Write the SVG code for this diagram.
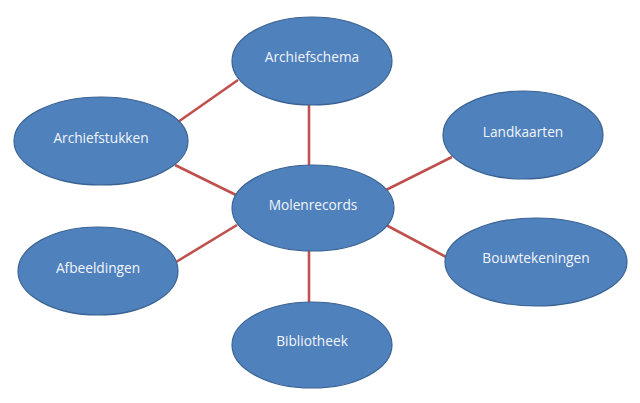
<svg xmlns="http://www.w3.org/2000/svg" width="640" height="403" viewBox="0 0 640 403">
<style>
.n ellipse{fill:#4F81BD;stroke:#3A6393;stroke-width:1.2}
.n text{font-family:"Open Sans","Liberation Sans",sans-serif;font-size:13.7px;fill:#F2F5FA;text-anchor:middle;dominant-baseline:central}
#edges line{stroke:#C0504D;stroke-width:2.6}
</style>
<rect width="640" height="403" fill="#fff"/>
<g id="edges">
<line x1="309" y1="104" x2="309" y2="166"/>
<line x1="178" y1="122" x2="238" y2="80"/>
<line x1="175" y1="165" x2="238" y2="196"/>
<line x1="386" y1="190" x2="452" y2="157"/>
<line x1="386" y1="225" x2="448" y2="258"/>
<line x1="237" y1="225" x2="176" y2="262"/>
<line x1="309" y1="250" x2="309" y2="303"/>
</g>
<g id="archiefschema" class="n"><ellipse cx="312" cy="61" rx="80" ry="44"/><text x="312" y="56">Archiefschema</text></g>
<g id="archiefstukken" class="n"><ellipse cx="101" cy="141" rx="87" ry="44"/><text x="101" y="137">Archiefstukken</text></g>
<g id="molenrecords" class="n"><ellipse cx="313" cy="208" rx="81" ry="43"/><text x="313" y="204">Molenrecords</text></g>
<g id="landkaarten" class="n"><ellipse cx="523" cy="135" rx="80" ry="44"/><text x="523" y="131">Landkaarten</text></g>
<g id="bouwtekeningen" class="n"><ellipse cx="536" cy="262" rx="91" ry="44"/><text x="536" y="257">Bouwtekeningen</text></g>
<g id="afbeeldingen" class="n"><ellipse cx="98" cy="271" rx="80" ry="44"/><text x="98" y="267">Afbeeldingen</text></g>
<g id="bibliotheek" class="n"><ellipse cx="312" cy="345" rx="80" ry="43"/><text x="312" y="340">Bibliotheek</text></g>
</svg>
